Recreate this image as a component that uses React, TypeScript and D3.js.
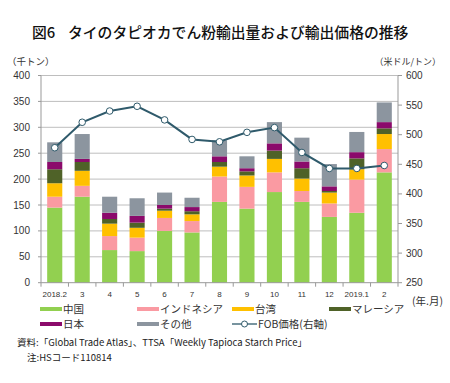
import React from "react";
import * as d3 from "d3";

const categories = ["2018.2", "3", "4", "5", "6", "7", "8", "9", "10", "11", "12", "2019.1", "2"];
const china = [145, 166, 63, 61, 100, 97, 156, 143, 175, 156, 127, 135, 213];
const indonesia = [21, 21, 27, 26, 25, 22, 49, 42, 38, 21, 26, 64, 45];
const taiwan = [26, 29, 24, 19, 14, 13, 19, 22, 26, 24, 21, 20, 29];
const malaysia = [27, 17, 9, 10, 4, 6, 9, 8, 16, 20, 3, 21, 11];
const japan = [14, 6, 12, 13, 7, 8, 11, 6, 14, 13, 9, 12, 12];
const others = [38, 48, 31, 34, 24, 18, 31, 23, 41, 46, 43, 39, 38];
const fob = [478, 521, 540, 548, 525, 492, 488, 504, 512, 470, 443, 443, 448];

const seriesNames = ["中国", "インドネシア", "台湾", "マレーシア", "日本", "その他"];
const seriesColors = ["#92D050", "#FA9AA2", "#FFC000", "#4F6228", "#8B0A6B", "#8C959F"];
const leftTicks = [0, 50, 100, 150, 200, 250, 300, 350, 400];
const rightTicks = [250, 300, 350, 400, 450, 500, 550, 600];

const FONT = "'Liberation Sans', Arial, 'Noto Sans CJK JP', sans-serif";
const JFONT = "'Noto Sans CJK JP', 'Liberation Sans', sans-serif";

export default function App() {
  const W = 450, H = 383;
  const x0 = 41, x1 = 398, yTop = 75.5, yBot = 282.7;
  const x = d3.scaleBand<string>().domain(categories).range([x0, x1]).paddingInner(0.45).paddingOuter(0.225);
  const xb = d3.scaleBand<string>().domain(categories).range([x0, x1]);
  const yL = d3.scaleLinear().domain([0, 400]).range([yBot, yTop]);
  const yR = d3.scaleLinear().domain([250, 600]).range([yBot, yTop]);

  const table = categories.map((c, i) => ({
    c,
    s0: china[i], s1: indonesia[i], s2: taiwan[i], s3: malaysia[i], s4: japan[i], s5: others[i],
  }));
  const stack = d3.stack<any>().keys(["s0", "s1", "s2", "s3", "s4", "s5"])(table);
  const line = d3.line<number>().x((_, i) => (xb(categories[i]) as number) + xb.bandwidth() / 2).y((d) => yR(d));
  const lineColor = "#2F5A6B";

  const legendRow1 = [
    { i: 0, x: 40 }, { i: 1, x: 137 }, { i: 2, x: 232 }, { i: 3, x: 329 },
  ];
  const legendRow2 = [{ i: 4, x: 40 }, { i: 5, x: 137 }];

  return (
    <svg width={W} height={H} style={{ position: "absolute", left: 0, top: 0, background: "#fff" }}>
      <text x={32} y={38} fontFamily={JFONT} fontSize={14.8} fontWeight={500} fill="#111">図6</text>
      <text x={68} y={38} fontFamily={JFONT} fontSize={14.8} fontWeight={500} fill="#111">
        タイのタピオカでん粉輸出量および輸出価格の推移
      </text>
      <text x={7} y={65} fontFamily={JFONT} fontSize={9.5} fill="#333">（千トン）</text>
      <text x={441} y={65} textAnchor="end" fontFamily={JFONT} fontSize={9} fill="#333">（米ドル/トン）</text>

      {leftTicks.map((t) => (
        <g key={"g" + t}>
          {t > 0 && <line x1={x0} x2={x1} y1={yL(t)} y2={yL(t)} stroke="#BEBEBE" strokeWidth={1} />}
          <line x1={x0 - 3} x2={x0} y1={yL(t)} y2={yL(t)} stroke="#999" />
          <text x={30} y={yL(t) + 3.5} textAnchor="end" fontFamily={FONT} fontSize={10} fill="#333">{t}</text>
        </g>
      ))}
      {rightTicks.map((t) => (
        <g key={"r" + t}>
          <line x1={x1} x2={x1 + 4} y1={yR(t)} y2={yR(t)} stroke="#999" />
          <text x={406} y={yR(t) + 3.5} fontFamily={FONT} fontSize={10} fill="#333">{t}</text>
        </g>
      ))}
      <line x1={x0} x2={x0} y1={yTop} y2={yBot} stroke="#999" />
      <line x1={x1} x2={x1} y1={yTop} y2={yBot} stroke="#999" />

      {stack.map((layer, si) => (
        <g key={"s" + si} fill={seriesColors[si]}>
          {layer.map((d: any, i: number) => (
            <rect key={i} x={x(categories[i])} width={x.bandwidth()} y={yL(d[1])} height={yL(d[0]) - yL(d[1])} />
          ))}
        </g>
      ))}

      <line x1={x0} x2={x1} y1={yBot} y2={yBot} stroke="#999" />
      {categories.map((c, i) => (
        <line key={"t" + i} x1={xb(c)} x2={xb(c)} y1={yBot} y2={yBot + 4} stroke="#999" />
      ))}
      <line x1={x1} x2={x1} y1={yBot} y2={yBot + 4} stroke="#999" />
      {categories.map((c) => (
        <text key={"l" + c} x={(xb(c) as number) + xb.bandwidth() / 2} y={297} textAnchor="middle" fontFamily={FONT} fontSize={8} fill="#333">{c}</text>
      ))}
      <text x={412} y={305} fontFamily={JFONT} fontSize={10.5} fill="#333">(年.月)</text>

      <path d={line(fob) as string} fill="none" stroke={lineColor} strokeWidth={2} />
      {fob.map((v, i) => (
        <circle key={"c" + i} cx={(xb(categories[i]) as number) + xb.bandwidth() / 2} cy={yR(v)} r={3.3} fill="#fff" stroke={lineColor} strokeWidth={1} />
      ))}

      {legendRow1.map(({ i, x: lx }) => (
        <g key={"lg" + i}>
          <rect x={lx} y={307} width={22} height={4} fill={seriesColors[i]} />
          <text x={lx + 23} y={313} fontFamily={JFONT} fontSize={10.5} fill="#333">{seriesNames[i]}</text>
        </g>
      ))}
      {legendRow2.map(({ i, x: lx }) => (
        <g key={"lg2" + i}>
          <rect x={lx} y={322} width={22} height={4} fill={seriesColors[i]} />
          <text x={lx + 23} y={328} fontFamily={JFONT} fontSize={10.5} fill="#333">{seriesNames[i]}</text>
        </g>
      ))}
      <line x1={232} x2={257} y1={324} y2={324} stroke={lineColor} strokeWidth={1.3} />
      <circle cx={244.5} cy={324} r={3} fill="#fff" stroke={lineColor} strokeWidth={1} />
      <text x={258} y={328} fontFamily={JFONT} fontSize={10.5} fill="#333">FOB価格(右軸)</text>

      <text x={17} y={346} fontFamily={JFONT} fontSize={9.5} fill="#222">資料:「Global Trade Atlas」、TTSA「Weekly Tapioca Starch Price」</text>
      <text x={27} y={361} fontFamily={JFONT} fontSize={9.5} fill="#222">注:HSコード110814</text>
    </svg>
  );
}
